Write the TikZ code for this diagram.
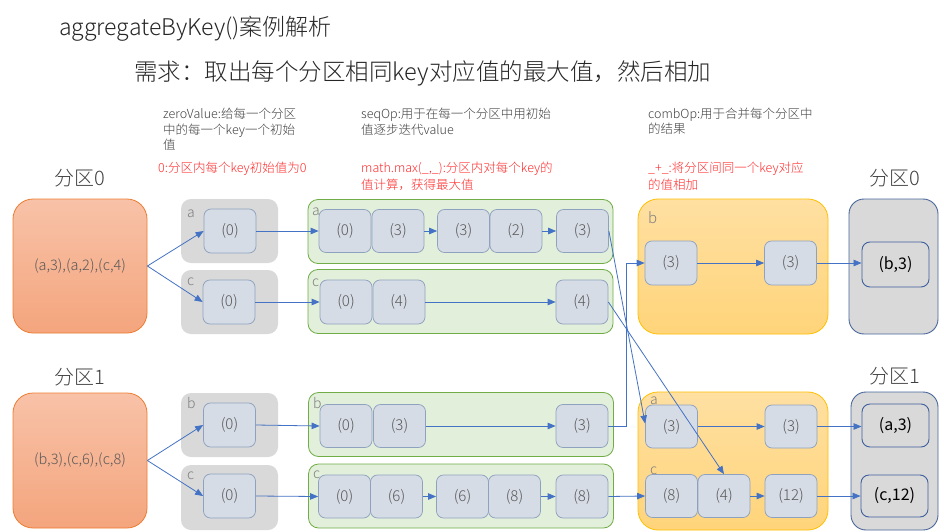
\documentclass[tikz,border=0pt]{standalone}
\usepackage{fontspec}
\IfFontExistsTF{Noto Sans CJK SC Light}{\setmainfont{Noto Sans CJK SC Light}[BoldFont={Noto Sans CJK SC}]}{\setmainfont{Noto Sans CJK SC}}
\usetikzlibrary{arrows.meta}
\definecolor{arr}{HTML}{4472C4}
\definecolor{cellf}{HTML}{D6DCE5}
\definecolor{cellb}{HTML}{8EA2BF}
\definecolor{valt}{HTML}{595959}
\definecolor{greyf}{HTML}{D9D9D9}
\definecolor{greenf}{HTML}{E2EFDA}
\definecolor{greenb}{HTML}{70AD47}
\definecolor{oranget}{HTML}{F8C2A8}
\definecolor{orangeb}{HTML}{F4A57D}
\definecolor{oranged}{HTML}{ED7D31}
\definecolor{yelt}{HTML}{FFE0A2}
\definecolor{yelb}{HTML}{FFD47A}
\definecolor{yeld}{HTML}{FFC000}
\definecolor{navy}{HTML}{4A679C}
\definecolor{navyin}{HTML}{3E5F9E}
\definecolor{titc}{HTML}{262626}
\definecolor{notec}{HTML}{404040}
\definecolor{redc}{HTML}{FF2B2B}
\definecolor{labc}{HTML}{7F7F7F}
\begin{document}
\begin{tikzpicture}[x=1pt,y=-1pt,
  cell/.style={draw=cellb, fill=cellf, rounded corners=7pt, line width=0.75pt,
    minimum width=52pt, minimum height=43pt, inner sep=0pt, text=valt,
    font=\fontsize{15}{15}\selectfont},
  res/.style={draw=navyin, fill=greyf, rounded corners=8pt, line width=0.9pt,
    minimum width=67pt, minimum height=43pt, inner sep=0pt, text=black,
    font=\fontsize{16}{16}\selectfont\bfseries},
  greybox/.style={draw=none, fill=greyf, rounded corners=10pt,
    minimum width=97pt, minimum height=64pt, inner sep=0pt},
  greenbox/.style={draw=greenb, fill=greenf, rounded corners=10pt, line width=0.8pt,
    minimum width=305pt, minimum height=64pt, inner sep=0pt},
  orangebox/.style={draw=oranged, top color=oranget, bottom color=orangeb,
    rounded corners=20pt, line width=0.8pt, minimum width=134pt, minimum height=134pt,
    inner sep=0pt, text=valt, font=\fontsize{14.5}{14.5}\selectfont},
  yelbox/.style={draw=yeld, top color=yelt, bottom color=yelb, rounded corners=20pt,
    line width=0.8pt, minimum width=190pt, minimum height=135pt, inner sep=0pt},
  resbox/.style={draw=navy, fill=greyf, rounded corners=15pt, line width=0.9pt,
    minimum width=89pt, minimum height=135pt, inner sep=0pt},
  lab/.style={anchor=base west, inner sep=0pt, text=labc, font=\fontsize{14}{14}\selectfont},
  note/.style={anchor=base west, inner sep=0pt, text=notec, font=\fontsize{12.5}{12.5}\selectfont},
  rednote/.style={anchor=base west, inner sep=0pt, text=redc, font=\fontsize{12.5}{12.5}\selectfont},
  part/.style={anchor=base west, inner sep=0pt, text=notec, font=\fontsize{20}{20}\selectfont},
  arrow/.style={draw=arr, line width=0.8pt, -{Triangle[length=8pt,width=6.5pt]}}
]
\useasboundingbox (0,0) rectangle (944,532);
\fill[white] (0,0) rectangle (944,532);

% titles
\node[anchor=base west, inner sep=0pt, text=titc, font=\fontsize{23}{23}\selectfont] (title) at (59,36) {aggregateByKey()案例解析};
\node[anchor=base west, inner sep=0pt, text=titc, font=\fontsize{23.5}{23.5}\selectfont] (req) at (134,81) {需求：取出每个分区相同key对应值的最大值，然后相加};

% notes
\node[note] (n1) at (163,119) {zeroValue:给每一个分区};
\node[note] (n2) at (163,134) {中的每一个key一个初始};
\node[note] (n3) at (163,149.5) {值};
\node[rednote] (r1) at (158,172) {0:分区内每个key初始值为0};
\node[note] (n4) at (361,119) {seqOp:用于在每一个分区中用初始};
\node[note] (n5) at (361,134) {值逐步迭代value};
\node[rednote] (r2) at (361,172) {math.max(\_,\_):分区内对每个key的};
\node[rednote] (r3) at (361,189) {值计算，获得最大值};
\node[note] (n6) at (648,118) {combOp:用于合并每个分区中};
\node[note] (n7) at (648,133) {的结果};
\node[rednote] (r4) at (648,172) {\_+\_:将分区间同一个key对应};
\node[rednote] (r5) at (648,189) {的值相加};

% partition labels
\node[part] (pl0) at (54,185) {分区0};
\node[part] (pl1) at (54,384) {分区1};
\node[part] (pr0) at (869,185) {分区0};
\node[part] (pr1) at (869,383) {分区1};

% orange sources
\node[orangebox] (p0) at (80,266) {(a,3),(a,2),(c,4)};
\node[orangebox, minimum height=135pt] (p1) at (80,460.5) {(b,3),(c,6),(c,8)};

% grey zero boxes
\node[greybox] (ga) at (229.5,231) {};
\node[greybox] (gc) at (229.5,302) {};
\node[greybox] (gb1) at (229.5,425) {};
\node[greybox, minimum height=65pt] (gc1) at (229.5,497.5) {};
\node[lab] (la) at (187,217) {a};
\node[lab] (lc) at (187,285) {c};
\node[lab] (lb1) at (187,408) {b};
\node[lab] (lc1) at (187,479) {c};
\node[cell, minimum height=44pt] (za) at (230,231) {(0)};
\node[cell, minimum height=44pt] (zc) at (229,302) {(0)};
\node[cell, minimum height=44pt] (zb1) at (229.5,425) {(0)};
\node[cell, minimum height=44pt] (zc1) at (229.5,496) {(0)};

% green seqOp boxes
\node[greenbox] (sa) at (460.5,231.5) {};
\node[greenbox] (sc) at (460.5,301.5) {};
\node[greenbox] (sb1) at (461,424.5) {};
\node[greenbox] (sc1) at (461,496) {};
\node[lab] (lsa) at (312,215) {a};
\node[lab] (lsc) at (312,286) {c};
\node[lab] (lsb1) at (313,408) {b};
\node[lab] (lsc1) at (313,478) {c};

\node[cell] (a1) at (345,231) {(0)};
\node[cell] (a2) at (398,231) {(3)};
\node[cell] (a3) at (463.5,231) {(3)};
\node[cell] (a4) at (516,231) {(2)};
\node[cell] (a5) at (582.5,231) {(3)};
\node[cell, minimum height=44pt] (c1) at (346,302) {(0)};
\node[cell, minimum height=44pt] (c2) at (399,302) {(4)};
\node[cell, minimum height=44pt] (c3) at (582,302) {(4)};
\node[cell] (b1) at (346,426) {(0)};
\node[cell] (b2) at (399.5,426) {(3)};
\node[cell] (b3) at (582,426) {(3)};
\node[cell] (d1) at (344.5,496.5) {(0)};
\node[cell] (d2) at (396.5,496.5) {(6)};
\node[cell] (d3) at (462.5,496.5) {(6)};
\node[cell] (d4) at (514.5,496.5) {(8)};
\node[cell] (d5) at (582,496.5) {(8)};

% yellow combOp boxes
\node[yelbox] (yt) at (733,266.5) {};
\node[yelbox, minimum height=138pt] (yb) at (733,461) {};
\node[lab, font=\fontsize{15}{15}\selectfont] (lyb) at (648,223) {b};
\node[lab] (lya) at (650,404) {a};
\node[lab] (lyc) at (650,474) {c};
\node[cell, minimum height=44pt] (yt1) at (671,263) {(3)};
\node[cell, minimum height=44pt] (yt2) at (790.5,263) {(3)};
\node[cell] (ya1) at (671.5,426.5) {(3)};
\node[cell] (ya2) at (791,426.5) {(3)};
\node[cell] (yc1) at (671.5,496) {(8)};
\node[cell] (yc2) at (724,496) {(4)};
\node[cell] (yc3) at (791,496) {(12)};

% results
\node[resbox] (rt) at (893.5,266.5) {};
\node[resbox, minimum width=87pt, minimum height=138pt] (rb) at (894.5,461) {};
\node[res, minimum height=45pt] (rb3) at (895.5,264.5) {(b,3)};
\node[res] (ra3) at (895.5,425.5) {(a,3)};
\node[res, minimum height=42pt] (rc12) at (894.5,496) {(c,12)};

% arrows
\draw[arrow] (p0.east) -- (za.west);
\draw[arrow] (p0.east) -- (zc.west);
\draw[arrow] (p1.east) -- (zb1.west);
\draw[arrow] (p1.east) -- (zc1.west);
\draw[arrow] (za.east) -- (a1.west);
\draw[arrow] (zc.east) -- (c1.west);
\draw[arrow] (zb1.east) -- (b1.west);
\draw[arrow] (zc1.east) -- (d1.west);
\draw[arrow] (a2.east) -- (a3.west);
\draw[arrow] (a4.east) -- (a5.west);
\draw[arrow] (c2.east) -- (c3.west);
\draw[arrow] (b2.east) -- (b3.west);
\draw[arrow] (d2.east) -- (d3.west);
\draw[arrow] (d4.east) -- (d5.west);
\draw[arrow] (a5.east) -- ([yshift=3pt]ya1.west);
\draw[arrow] (c3.east) -- (yc2.north);
\draw[arrow] (b3.east) -- ([xshift=18pt]b3.east) |- (yt1.west);
\draw[arrow] (d5.east) -- (yc1.west);
\draw[arrow] (yt1.east) -- (yt2.west);
\draw[arrow] (yt2.east) -- (yt2.east -| rb3.west);
\draw[arrow] (ya1.east) -- (ya2.west);
\draw[arrow] (ya2.east) -- (ya2.east -| ra3.west);
\draw[arrow] (yc2.east) -- (yc3.west);
\draw[arrow] (yc3.east) -- (yc3.east -| rc12.west);
\end{tikzpicture}
\end{document}
